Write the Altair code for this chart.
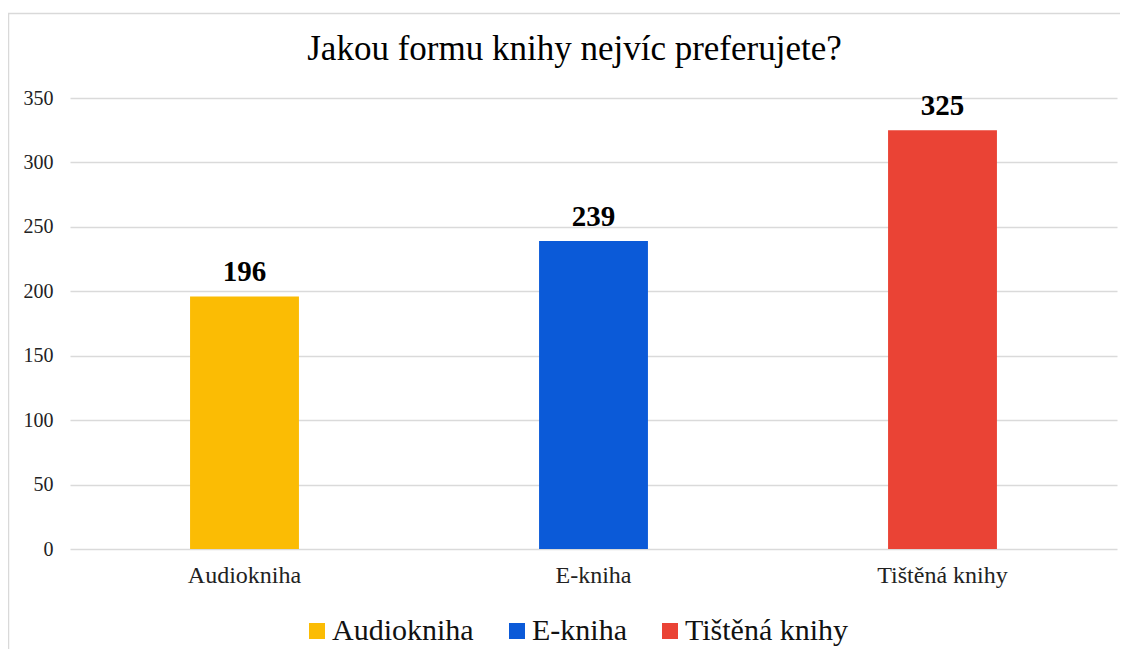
import altair as alt
import pandas as pd

categories = ["Audiokniha", "E-kniha", "Tištěná knihy"]
values = [196, 239, 325]
colors = ["#fbbc04", "#0b5ad8", "#ea4335"]
y_ticks = [0, 50, 100, 150, 200, 250, 300, 350]

df = pd.DataFrame({"forma": categories, "pocet": values})

W, H = 1047, 451
FONT = "Liberation Serif"

x = alt.X("forma:N", sort=categories, title=None,
          scale=alt.Scale(paddingInner=0.688, paddingOuter=0.344),
          axis=alt.Axis(labelAngle=0, labelFontSize=24, labelFont=FONT, labelColor="#222222",
                        ticks=False, domain=False, labelPadding=14))
y = alt.Y("pocet:Q", title=None,
          scale=alt.Scale(domain=[0, 350]),
          axis=alt.Axis(values=y_ticks, labelFontSize=20, labelFont=FONT, labelColor="#222222",
                        ticks=False, domain=False, labelPadding=17,
                        gridColor="#dadada", gridWidth=1.5))

bars = alt.Chart(df).mark_bar().encode(
    x=x, y=y,
    color=alt.Color("forma:N", sort=categories,
                    scale=alt.Scale(domain=categories, range=colors),
                    legend=alt.Legend(title=None, orient="none", direction="horizontal",
                                      legendX=232, legendY=518,
                                      symbolType="square", symbolSize=256, symbolStrokeWidth=0,
                                      labelFontSize=30, labelFont=FONT, labelColor="#111111",
                                      labelOffset=0, columnPadding=28, labelLimit=400)),
)

labels = alt.Chart(df).mark_text(font=FONT, fontSize=29, fontWeight="bold", dy=-15,
                                 baseline="alphabetic", color="#000000").encode(
    x=alt.X("forma:N", sort=categories), y="pocet:Q", text="pocet:Q")

frame = alt.Chart(alt.Data(values=[{}])).mark_rect(
    fill=None, stroke="#d9d9d9", strokeWidth=1.5, clip=False).encode(
    x=alt.value(-61.5), x2=alt.value(W + 80), y=alt.value(-84.5), y2=alt.value(H + 200))

chart = alt.layer(frame, bars, labels).properties(
    width=W, height=H,
    title=alt.TitleParams("Jakou formu knihy nejvíc preferujete?", font=FONT, fontSize=35,
                          fontWeight="normal", color="#000000", anchor="middle",
                          baseline="alphabetic", dx=-19, offset=-82),
    autosize=alt.AutoSizeParams(type="none"),
    padding={"left": 62, "top": 90, "right": 3, "bottom": 100},
).configure_view(stroke=None).configure_legend(labelFont=FONT)

chart.save("out.html", embed_options={"renderer": "svg", "actions": False})
